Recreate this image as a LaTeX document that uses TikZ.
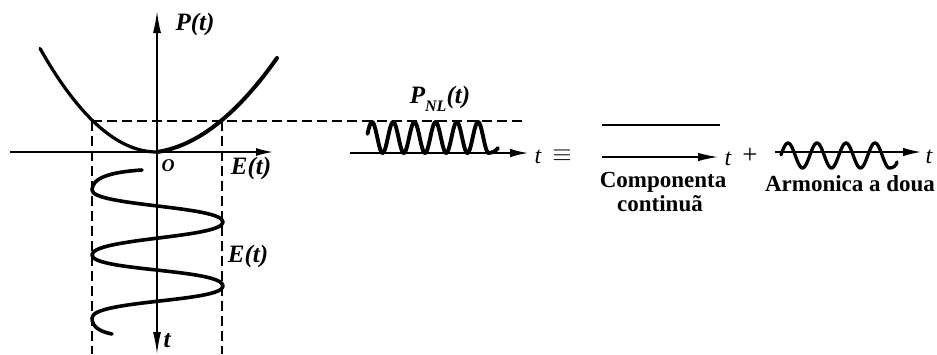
\documentclass[tikz,border=0pt]{standalone}
\usepackage{fontspec}
\setmainfont{Liberation Serif}
\usetikzlibrary{arrows.meta}
\begin{document}
\begin{tikzpicture}[x=1pt,y=-1pt,
  axis/.style={line width=1.5pt},
  dashln/.style={line width=1.5pt, dash pattern=on 10pt off 5pt},
  curve/.style={line width=3.6pt, line cap=round, line join=round},
  tip/.style={-{Latex[length=18pt,width=8.5pt]}},
  lab/.style={font=\fontsize{25}{28}\selectfont\bfseries\itshape, inner sep=0pt},
  olab/.style={font=\fontsize{18}{20}\selectfont\bfseries\itshape, inner sep=0pt},
  tlab/.style={font=\fontsize{24}{26}\selectfont\itshape, inner sep=0pt},
  sym/.style={font=\fontsize{27}{29}\selectfont, inner sep=0pt},
  txt/.style={font=\fontsize{23}{25}\selectfont\bfseries, inner sep=0pt, anchor=base}
]
\useasboundingbox (0,0) rectangle (937,354);

% ---- left figure: axes
\coordinate (vtop) at (157,11);
\coordinate (vbot) at (157,354);
\coordinate (hl) at (10,152);
\coordinate (hr) at (273,152);
\draw[axis,{Latex[length=22pt,width=8pt]}-{Latex[length=22pt,width=8pt]}] (vbot) -- (vtop);
\draw[axis,-{Latex[length=17pt,width=8pt]}] (hl) -- (hr);

% dashed guides
\coordinate (dl) at (92,121);
\coordinate (dr) at (524,121);
\coordinate (dlb) at (92,354);
\coordinate (drt) at (222,121);
\coordinate (drb) at (222,354);
\draw[dashln] (dl) -- (dr);
\draw[dashln] (dl) -- (dlb);
\draw[dashln] (drt) -- (drb);

% parabola
\draw[curve, line width=3.2pt] plot[domain=-117:0, samples=60, smooth] ({157+\x}, {152-0.00757*\x*\x});
\draw[curve, line width=4pt] plot[domain=0:120, samples=60, smooth] ({157+\x}, {152-(0.00529*\x*\x+0.148*\x)});

% E(t) sinusoid, drawn downward in time
\draw[curve] (142,170) .. controls (110,172) and (92,178) .. (92,190)
  .. controls (92,206) and (223,206) .. (223,222)
  .. controls (223,238) and (92,238) .. (92,255)
  .. controls (92,271) and (223,269) .. (223,286)
  .. controls (223,302) and (92,300) .. (92,318)
  .. controls (92,328) and (102,332) .. (112,334);

\node[lab] (P) at (195,24) {P(t)};
\node[olab] (O) at (168,166) {O};
\node[lab] (E1) at (251,168) {E(t)};
\node[lab] (E2) at (248,256) {E(t)};
\node[lab] (t1) at (167,341) {t};

% ---- middle figure: P_NL(t)
\coordinate (mL) at (350,153);
\coordinate (mR) at (528,153);
\draw[axis,tip] (mL) -- (mR);
\draw[curve, line width=3.9pt] plot[domain=367.5:488.6, samples=220, smooth] (\x, {137.5-15.5*cos((\x-372)/21.2*360)})
  .. controls (492,153) and (495,152) .. (498,148);
\node[lab] (PNL) at (440,99) {P\raisebox{-0.3em}{\fontsize{16}{16}\selectfont NL}(t)};
\node[tlab] (t2) at (538,157) {t};
\node[sym] (eq) at (562,156) {$\equiv$};

% ---- DC component
\coordinate (c1a) at (602,125);
\coordinate (c1b) at (720,125);
\coordinate (c2a) at (602,157);
\coordinate (c2b) at (718,157);
\draw[axis] (c1a) -- (c1b);
\draw[axis,-{Latex[length=20pt,width=8.5pt]}] (c2a) -- (c2b);
\node[tlab] (t3) at (728,159) {t};
\node[sym] (plus) at (750,156) {+};
\node[txt] (comp1) at (663,187) {Componenta};
\node[txt] (comp2) at (660,211) {continuã};

% ---- second harmonic
\coordinate (aL) at (775,152);
\coordinate (aR) at (921,152);
\draw[axis,-{Latex[length=18pt,width=8.5pt]}] (aL) -- (aR);
\draw[curve, line width=3.3pt] plot[domain=781:889.5, samples=220, smooth] (\x, {155.5-12.5*sin((\x-780.75)/29*360)})
  .. controls (893,168) and (896,166) .. (897,162);
\node[tlab] (t4) at (929,157) {t};
\node[txt] (arm) at (850,191) {Armonica a doua};
\end{tikzpicture}
\end{document}
